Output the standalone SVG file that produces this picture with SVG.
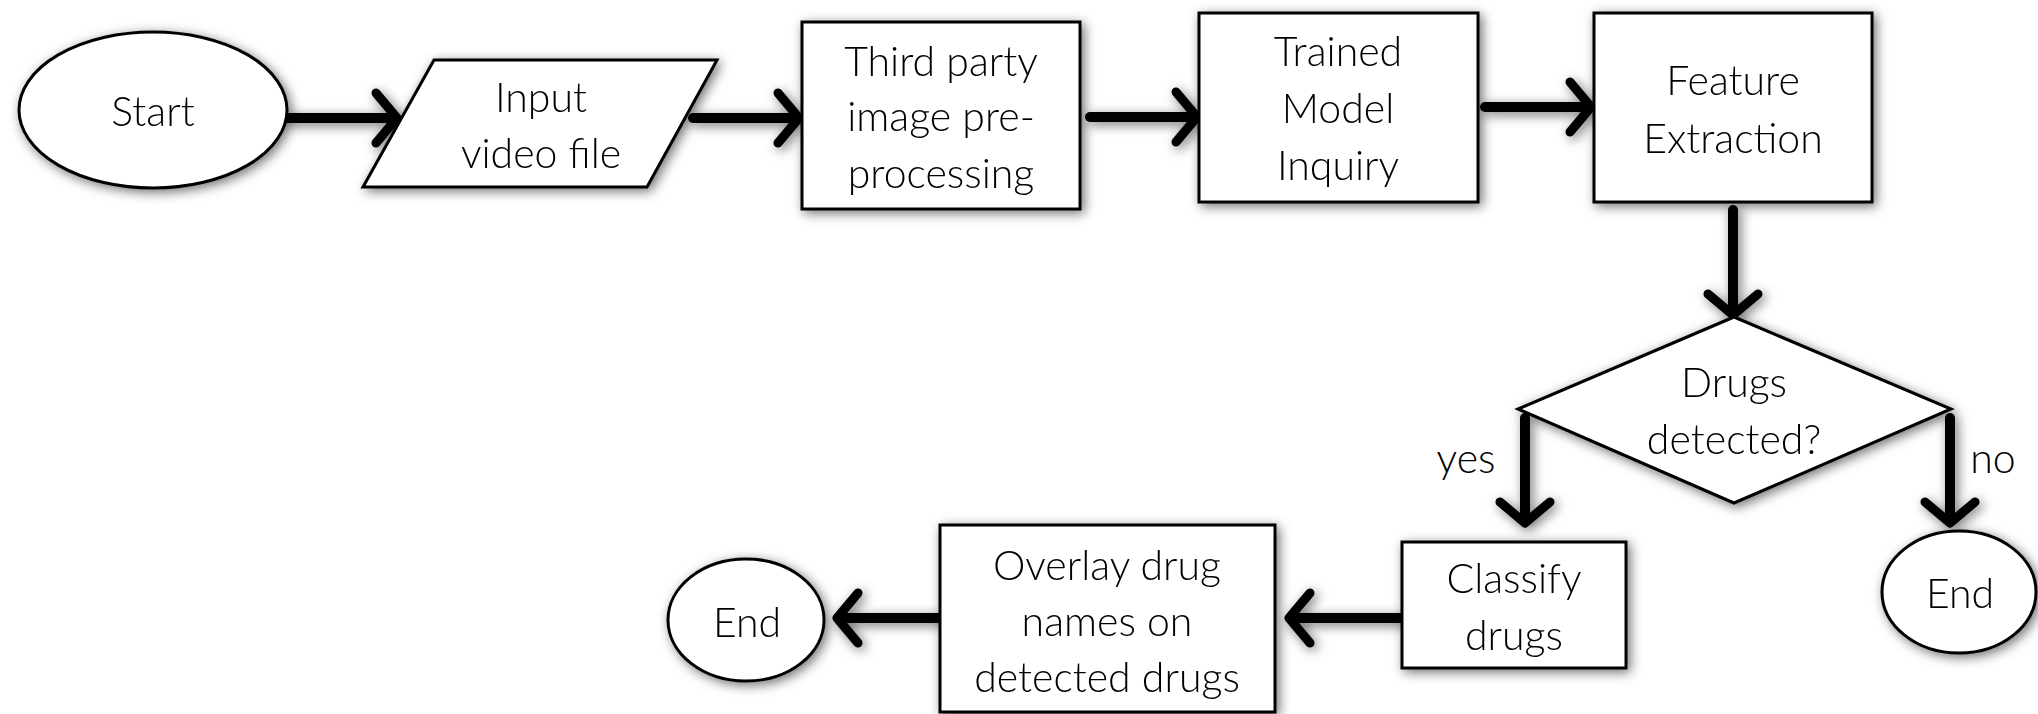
<svg xmlns="http://www.w3.org/2000/svg" width="2038" height="714" viewBox="0 0 2038 714">
<defs>
<filter id="sh" x="-20%" y="-20%" width="140%" height="140%">
<feGaussianBlur in="SourceAlpha" stdDeviation="6"/>
<feOffset dx="3" dy="3" result="b"/>
<feFlood flood-color="#000" flood-opacity="0.55"/>
<feComposite in2="b" operator="in"/>
<feMerge><feMergeNode/><feMergeNode in="SourceGraphic"/></feMerge>
</filter>
<marker id="ah" markerUnits="userSpaceOnUse" markerWidth="60" markerHeight="60" refX="0" refY="0" orient="auto" overflow="visible">
<path d="M -17 -25 L 4 0 L -17 25" fill="none" stroke="#000" stroke-width="9" stroke-linecap="round" stroke-linejoin="round"/>
</marker>
</defs>
<style>
.n{fill:#fff;stroke:#000;stroke-width:3}
.t{font-family:Lato,"Open Sans","Liberation Sans",sans-serif;font-weight:300;font-size:41px;fill:#000;text-anchor:middle}
.c{stroke:#000;stroke-width:10;stroke-linecap:round;fill:none}
</style>
<rect width="2038" height="714" fill="#fff"/>
<g id="connectors" filter="url(#sh)">
<line class="c" x1="287" y1="118" x2="393" y2="118" marker-end="url(#ah)"/>
<line class="c" x1="693" y1="118" x2="795" y2="118" marker-end="url(#ah)"/>
<line class="c" x1="1090" y1="117" x2="1193" y2="117" marker-end="url(#ah)"/>
<line class="c" x1="1485" y1="107" x2="1587" y2="107" marker-end="url(#ah)"/>
<line class="c" x1="1733" y1="210" x2="1733" y2="311" marker-end="url(#ah)"/>
<line class="c" x1="1525" y1="418" x2="1525" y2="519" marker-end="url(#ah)"/>
<line class="c" x1="1950" y1="418" x2="1950" y2="519" marker-end="url(#ah)"/>
<line class="c" x1="1402" y1="618" x2="1293" y2="618" marker-end="url(#ah)"/>
<line class="c" x1="941" y1="618" x2="841" y2="618" marker-end="url(#ah)"/>
</g>
<g id="start" filter="url(#sh)">
<ellipse class="n" cx="153" cy="110" rx="134" ry="78"/>
<text class="t" x="153" y="126">Start</text>
</g>
<g id="input" filter="url(#sh)">
<polygon class="n" points="434,60 717,60 647,187 363,187"/>
<text class="t" x="541" y="112">Input</text>
<text class="t" x="541" y="168">video file</text>
</g>
<g id="preprocess" filter="url(#sh)">
<rect class="n" x="802" y="22" width="278" height="187"/>
<text class="t" x="941" y="76">Third party</text>
<text class="t" x="941" y="131">image pre-</text>
<text class="t" x="941" y="188">processing</text>
</g>
<g id="trained" filter="url(#sh)">
<rect class="n" x="1199" y="13" width="279" height="189"/>
<text class="t" x="1338" y="66">Trained</text>
<text class="t" x="1338" y="123">Model</text>
<text class="t" x="1338" y="180">Inquiry</text>
</g>
<g id="feature" filter="url(#sh)">
<rect class="n" x="1594" y="13" width="278" height="189"/>
<text class="t" x="1733" y="95">Feature</text>
<text class="t" x="1733" y="153">Extraction</text>
</g>
<g id="decision" filter="url(#sh)">
<polygon class="n" points="1734,317 1951,409 1734,503 1518,409"/>
<text class="t" x="1734" y="397">Drugs</text>
<text class="t" x="1734" y="454">detected?</text>
</g>
<g id="label-yes"><text class="t" x="1466" y="473">yes</text></g>
<g id="label-no"><text class="t" x="1993" y="473">no</text></g>
<g id="end-right" filter="url(#sh)">
<ellipse class="n" cx="1959" cy="592" rx="77" ry="61"/>
<text class="t" x="1960" y="608">End</text>
</g>
<g id="classify" filter="url(#sh)">
<rect class="n" x="1402" y="542" width="224" height="126"/>
<text class="t" x="1514" y="593">Classify</text>
<text class="t" x="1514" y="650">drugs</text>
</g>
<g id="overlay" filter="url(#sh)">
<rect class="n" x="940" y="525" width="335" height="187"/>
<text class="t" x="1107" y="580">Overlay drug</text>
<text class="t" x="1107" y="636">names on</text>
<text class="t" x="1107" y="692">detected drugs</text>
</g>
<g id="end-left" filter="url(#sh)">
<ellipse class="n" cx="746" cy="620" rx="78" ry="61"/>
<text class="t" x="747" y="637">End</text>
</g>
</svg>
